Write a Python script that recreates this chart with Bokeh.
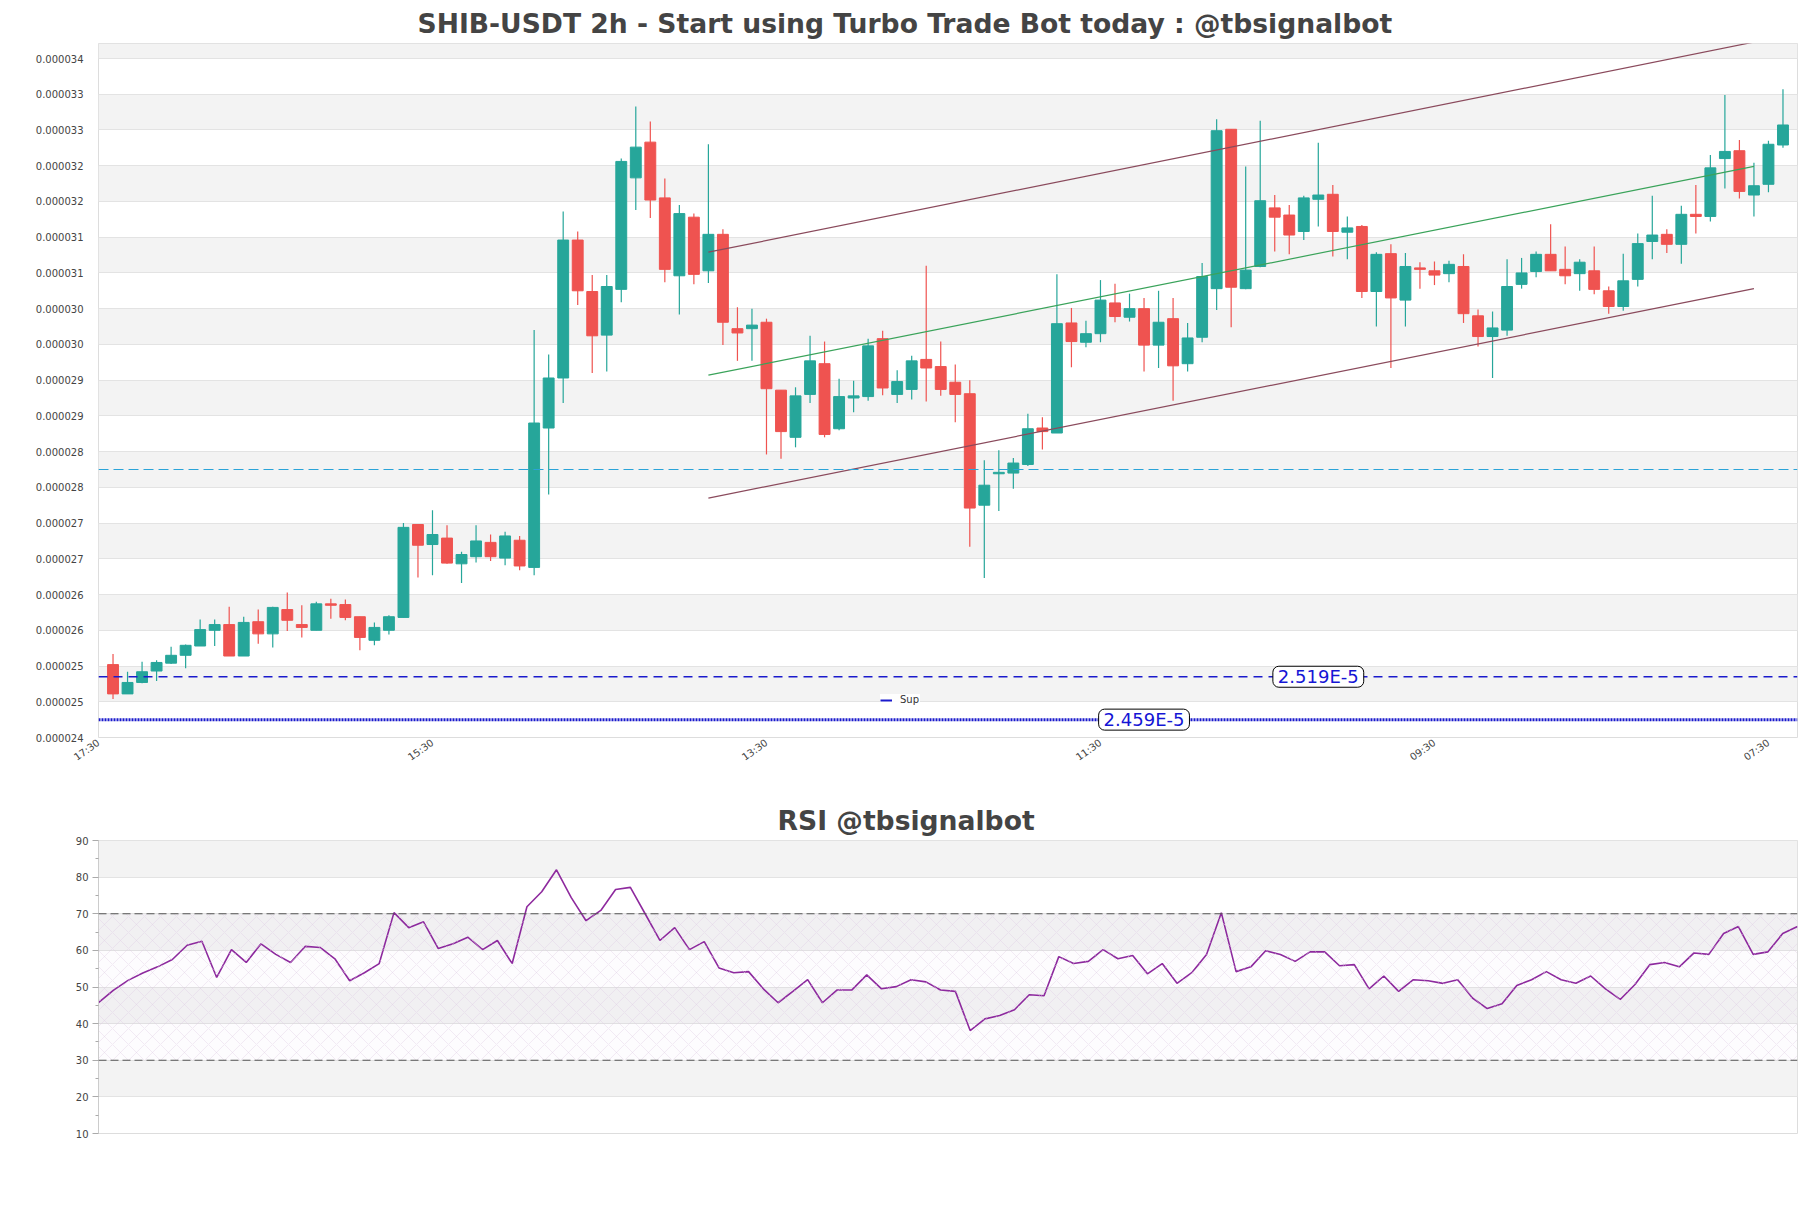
from bokeh.plotting import figure
from bokeh.layouts import column
from bokeh.models import (Range1d, FixedTicker, PrintfTickFormatter, Span, Label,
                          Legend, LegendItem, BoxAnnotation, ColumnDataSource)
from bokeh.embed import file_html
from bokeh.resources import INLINE

SCALE = 1e-6  # prices below are given in millionths of USDT

open_ = [25.36, 24.95, 25.11, 25.27, 25.38, 25.49, 25.62, 25.84, 25.92, 25.48,
         25.96, 25.79, 26.13, 25.92, 25.84, 26.21, 26.20, 26.03, 25.70, 25.84,
         26.02, 27.32, 27.04, 27.13, 26.77, 26.87, 27.07, 26.85, 27.10, 26.72,
         28.67, 29.37, 31.30, 30.58, 29.97, 30.61, 32.17, 32.67, 31.89, 30.80,
         31.62, 30.87, 31.38, 30.06, 30.06, 30.15, 29.20, 28.54, 29.14, 29.57,
         28.66, 29.09, 29.11, 29.92, 29.14, 29.21, 29.63, 29.53, 29.31, 29.15,
         27.59, 28.03, 28.04, 28.16, 28.67, 28.60, 30.14, 29.87, 29.99, 30.42,
         30.22, 30.34, 29.83, 30.20, 29.57, 29.94, 30.62, 32.85, 30.62, 30.93,
         31.75, 31.65, 31.42, 31.87, 31.94, 31.41, 31.49, 30.58, 31.11, 30.46,
         30.91, 30.87, 30.83, 30.93, 30.24, 29.95, 30.04, 30.68, 30.86, 31.10,
         30.89, 30.83, 30.87, 30.59, 30.37, 30.75, 31.28, 31.38, 31.24, 31.66,
         31.63, 32.44, 32.55, 31.93, 32.08, 32.63]
high = [25.51, 25.26, 25.40, 25.42, 25.61, 25.64, 25.99, 25.99, 26.17, 26.03,
        26.13, 26.17, 26.37, 26.19, 26.24, 26.28, 26.27, 26.03, 25.95, 26.05,
        27.34, 27.32, 27.52, 27.31, 26.94, 27.31, 27.18, 27.22, 27.16, 30.04,
        29.70, 31.70, 31.42, 30.81, 30.81, 32.44, 33.17, 32.96, 32.16, 31.79,
        31.67, 32.64, 31.45, 30.36, 30.34, 30.20, 29.20, 29.24, 29.96, 29.88,
        29.36, 29.33, 29.92, 30.03, 29.48, 29.68, 30.94, 29.88, 29.56, 29.34,
        28.22, 28.36, 28.25, 28.87, 28.82, 30.82, 30.35, 30.17, 30.74, 30.69,
        30.55, 30.49, 30.59, 30.49, 30.14, 30.98, 32.99, 32.85, 32.33, 32.97,
        31.93, 31.79, 31.92, 32.66, 32.07, 31.63, 31.51, 31.13, 31.24, 31.12,
        30.99, 31.00, 31.01, 31.10, 30.33, 30.30, 31.03, 31.05, 31.14, 31.52,
        31.21, 31.03, 31.21, 30.65, 31.11, 31.39, 31.92, 31.45, 31.78, 32.07,
        32.49, 33.33, 32.70, 32.38, 32.69, 33.41]
low = [24.88, 24.95, 25.10, 25.13, 25.37, 25.31, 25.62, 25.62, 25.48, 25.48,
       25.65, 25.60, 25.83, 25.74, 25.84, 26.00, 25.98, 25.56, 25.63, 25.78,
       26.02, 26.58, 26.61, 26.77, 26.50, 26.79, 26.81, 26.75, 26.68, 26.61,
       27.74, 29.02, 30.39, 29.44, 29.46, 30.43, 31.72, 31.61, 30.71, 30.26,
       30.68, 30.70, 29.83, 29.61, 29.61, 28.30, 28.24, 28.40, 29.02, 28.54,
       28.64, 28.89, 29.05, 29.13, 29.02, 29.07, 29.04, 29.12, 28.75, 27.01,
       26.57, 27.51, 27.82, 28.14, 28.37, 28.60, 29.52, 29.80, 29.87, 30.15,
       30.16, 29.46, 29.51, 29.05, 29.46, 29.87, 30.32, 30.08, 30.61, 30.92,
       31.14, 31.10, 31.30, 31.49, 31.07, 31.03, 30.49, 30.09, 29.51, 30.09,
       30.62, 30.67, 30.71, 30.14, 29.81, 29.37, 29.96, 30.62, 30.78, 30.87,
       30.68, 30.59, 30.54, 30.27, 30.31, 30.65, 31.03, 31.12, 30.97, 31.39,
       31.56, 32.02, 31.88, 31.63, 31.97, 32.59]
close = [24.95, 25.11, 25.26, 25.39, 25.49, 25.63, 25.85, 25.92, 25.48, 25.95,
         25.79, 26.16, 25.98, 25.88, 26.21, 26.19, 26.02, 25.74, 25.88, 26.03,
         27.28, 27.03, 27.18, 26.78, 26.90, 27.09, 26.87, 27.16, 26.74, 28.74,
         29.37, 31.30, 30.59, 29.96, 30.65, 32.40, 32.60, 31.86, 30.89, 31.67,
         30.82, 31.38, 30.15, 30.00, 30.11, 29.22, 28.62, 29.12, 29.61, 28.58,
         29.11, 29.12, 29.82, 29.23, 29.32, 29.61, 29.51, 29.21, 29.14, 27.55,
         27.87, 28.05, 28.18, 28.66, 28.62, 30.13, 29.88, 29.99, 30.46, 30.23,
         30.34, 29.83, 30.15, 29.54, 29.93, 30.79, 32.83, 30.64, 30.88, 31.85,
         31.62, 31.37, 31.89, 31.93, 31.42, 31.47, 30.58, 31.10, 30.49, 30.93,
         30.89, 30.81, 30.96, 30.27, 29.95, 30.07, 30.65, 30.84, 31.10, 30.87,
         30.80, 30.99, 30.61, 30.37, 30.73, 31.25, 31.37, 31.24, 31.66, 31.63,
         32.31, 32.54, 31.98, 32.06, 32.64, 32.91]

rsi = [45.7, 49.1, 51.8, 53.8, 55.5, 57.5, 61.4, 62.5, 52.6, 60.2,
       56.7, 61.8, 58.9, 56.7, 61.1, 60.8, 57.7, 51.7, 53.9, 56.4,
       70.3, 66.2, 67.8, 60.5, 61.8, 63.6, 60.2, 62.7, 56.4, 71.9,
       76.0, 82.0, 74.4, 68.1, 70.9, 76.6, 77.2, 70.0, 62.7, 66.2,
       60.2, 62.4, 55.2, 53.9, 54.2, 49.5, 45.7, 48.8, 52.0, 45.7,
       49.2, 49.2, 53.3, 49.5, 50.1, 52.0, 51.4, 49.2, 48.8, 38.1,
       41.3, 42.2, 43.8, 47.9, 47.6, 58.3, 56.4, 57.0, 60.2, 57.7,
       58.6, 53.6, 56.4, 51.0, 53.9, 58.9, 70.3, 54.2, 55.5, 59.9,
       58.9, 57.0, 59.6, 59.6, 55.8, 56.1, 49.5, 53.0, 48.8, 52.0,
       51.7, 51.0, 52.0, 47.0, 44.1, 45.4, 50.4, 52.0, 54.2, 52.0,
       51.0, 53.0, 49.5, 46.6, 50.7, 56.1, 56.7, 55.5, 59.3, 58.9,
       64.6, 66.5, 58.9, 59.6, 64.6, 66.5]

# time ticks: every 23 bars (46 h), the first one is the 2h slot before bar 0
tick_idx = [-1, 22, 45, 68, 91, 114]
tick_labels = ["17:30", "15:30", "13:30", "11:30", "09:30", "07:30"]

channel_x = [41, 113]
channel_upper = [31.13, 34.07]
channel_mid = [29.41, 32.33]
channel_lower = [27.69, 30.62]

sup_levels = [25.19, 24.59]
sup_texts = ["2.519E-5", "2.459E-5"]
level_mid = 28.09

y_tick_base = 24.34
y_tick_step = 0.5
y_top = 34.05

rsi_ticks = [10, 20, 30, 40, 50, 60, 70, 80, 90]
rsi_minor = [15, 25, 35, 45, 55, 65, 75, 85]

GREEN = "#26a69a"
RED = "#ef5350"
FONT = "DejaVu Sans"

# ---------------- main candle chart ----------------
n = len(open_)
xs = list(range(n))
up = [i for i in xs if close[i] >= open_[i]]
dn = [i for i in xs if close[i] < open_[i]]

def src(ids):
    return ColumnDataSource(dict(
        x=ids,
        h=[high[i] * SCALE for i in ids],
        l=[low[i] * SCALE for i in ids],
        top=[max(open_[i], close[i]) * SCALE for i in ids],
        bot=[min(open_[i], close[i]) * SCALE for i in ids],
    ))

p1 = figure(width=1803, height=788, output_backend="svg", toolbar_location=None,
            x_range=Range1d(-1.0, 116.0),
            y_range=Range1d(y_tick_base * SCALE, y_top * SCALE),
            min_border_left=98, min_border_right=6, min_border_top=43, min_border_bottom=51)
p1.title.text = "SHIB-USDT 2h - Start using Turbo Trade Bot today : @tbsignalbot"
p1.title.align = "left"
p1.title.offset = 319
p1.title.text_font = FONT
p1.title.text_font_size = "26.6px"
p1.title.text_font_style = "bold"
p1.title.text_color = "#444444"
p1.title.standoff = 9

for ids, col in ((up, GREEN), (dn, RED)):
    s = src(ids)
    p1.segment(x0="x", y0="h", x1="x", y1="l", source=s, line_color=col, line_width=1.2)
    p1.vbar(x="x", top="top", bottom="bot", width=0.75, source=s,
            fill_color=col, line_color=col, line_width=1)

p1.segment(x0=[channel_x[0]], y0=[channel_upper[0] * SCALE], x1=[channel_x[1]], y1=[channel_upper[1] * SCALE],
           line_color="#8a4a5c", line_width=1.2)
p1.segment(x0=[channel_x[0]], y0=[channel_lower[0] * SCALE], x1=[channel_x[1]], y1=[channel_lower[1] * SCALE],
           line_color="#8a4a5c", line_width=1.2)
p1.segment(x0=[channel_x[0]], y0=[channel_mid[0] * SCALE], x1=[channel_x[1]], y1=[channel_mid[1] * SCALE],
           line_color="#3aa35a", line_width=1.2)

p1.add_layout(Span(location=level_mid * SCALE, dimension="width", line_color="#2aa3d8",
                   line_dash="10 5", line_width=1.2))
p1.add_layout(Span(location=sup_levels[0] * SCALE, dimension="width", line_color="#1a1acc",
                   line_dash="9 6", line_width=1.3))
p1.add_layout(Span(location=sup_levels[1] * SCALE, dimension="width", line_color="#1a1acc",
                   line_dash="2 1", line_width=3))

for xl, lv, tx in ((83, sup_levels[0], sup_texts[0]), (71, sup_levels[1], sup_texts[1])):
    p1.add_layout(Label(x=xl, y=lv * SCALE, text=tx, text_align="center", text_baseline="middle",
                        text_font=FONT, text_font_size="18px", text_color="#1515d5",
                        background_fill_color="white", background_fill_alpha=1.0,
                        border_line_color="black", border_line_width=1, border_radius=6,
                        padding=(5, 0)))

sup_r = p1.line(x=[float("nan")], y=[float("nan")], line_color="#1a1acc", line_width=2)
leg = Legend(items=[LegendItem(label="Sup", renderers=[sup_r])], location=(782, 32),
             background_fill_color="white", background_fill_alpha=0.9,
             border_line_color=None, label_text_font=FONT, label_text_font_size="10px",
             label_text_color="#333333", glyph_width=12, glyph_height=10,
             padding=4, margin=0, label_standoff=8)
p1.add_layout(leg)

p1.yaxis.ticker = FixedTicker(ticks=[(y_tick_base + y_tick_step * k) * SCALE for k in range(20)])
p1.yaxis.formatter = PrintfTickFormatter(format="%.6f")
p1.xaxis.ticker = FixedTicker(ticks=tick_idx)
p1.xaxis.major_label_overrides = {t: l for t, l in zip(tick_idx, tick_labels)}
p1.xaxis.major_label_orientation = 0.62
for ax in (p1.xaxis, p1.yaxis):
    ax.axis_line_color = None
    ax.major_tick_line_color = None
    ax.minor_tick_line_color = None
    ax.major_label_text_font = FONT
    ax.major_label_text_font_size = "10px"
    ax.major_label_text_color = "#444444"
p1.yaxis.major_label_standoff = 9
p1.xaxis.major_label_standoff = -2
p1.xgrid.visible = False
p1.ygrid.grid_line_color = "#e3e3e3"
p1.ygrid.band_fill_color = "#f3f3f3"
p1.ygrid.band_fill_alpha = 1.0
p1.outline_line_color = "#dddddd"
p1.background_fill_color = "white"

# ---------------- RSI chart ----------------
p2 = figure(width=1803, height=385, output_backend="svg", toolbar_location=None,
            x_range=Range1d(0, n - 1), y_range=Range1d(10, 90),
            min_border_left=98, min_border_right=6, min_border_top=52, min_border_bottom=40)
p2.title.text = "RSI @tbsignalbot"
p2.title.align = "left"
p2.title.offset = 679
p2.title.text_font = FONT
p2.title.text_font_size = "26.6px"
p2.title.text_font_style = "bold"
p2.title.text_color = "#444444"
p2.title.standoff = 9

p2.add_layout(BoxAnnotation(bottom=30, top=70, fill_color="#9c27b0", fill_alpha=0.015,
                            line_alpha=0, hatch_pattern="diagonal_cross", hatch_color="#dccbe4",
                            hatch_alpha=0.6, hatch_scale=16, hatch_weight=0.6))
p2.add_layout(Span(location=70, dimension="width", line_color="#555555", line_dash="8 4", line_width=1.2))
p2.add_layout(Span(location=30, dimension="width", line_color="#555555", line_dash="8 4", line_width=1.2))
p2.line(x=xs, y=rsi, line_color="#8e2a9e", line_width=1.6)

p2.xaxis.visible = False
p2.xgrid.visible = False
p2.yaxis.ticker = FixedTicker(ticks=rsi_ticks, minor_ticks=rsi_minor)
p2.yaxis.axis_line_color = "#cccccc"
p2.yaxis.major_tick_line_color = "#aaaaaa"
p2.yaxis.minor_tick_line_color = "#aaaaaa"
p2.yaxis.major_tick_out = 6
p2.yaxis.major_tick_in = 0
p2.yaxis.minor_tick_out = 3
p2.yaxis.minor_tick_in = 0
p2.yaxis.major_label_text_font = FONT
p2.yaxis.major_label_text_font_size = "10px"
p2.yaxis.major_label_text_color = "#444444"
p2.yaxis.major_label_standoff = 4
p2.ygrid.grid_line_color = "#e3e3e3"
p2.ygrid.band_fill_color = "#f3f3f3"
p2.ygrid.band_fill_alpha = 1.0
p2.outline_line_color = "#dddddd"

layout = column(p1, p2)
open("out.html", "w").write(file_html(layout, INLINE))
